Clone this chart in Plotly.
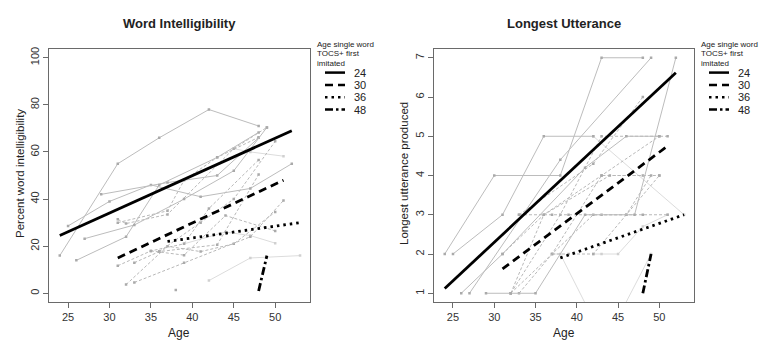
import plotly.graph_objects as go

# ---------------- data: Word Intelligibility (left) ----------------
wi_solid = [
    ([24, 31, 36, 42, 48], [16, 55, 66, 78, 71]),
    ([25, 30, 35, 41, 47, 52], [28.6, 39, 46, 41, 44.5, 55]),
    ([29, 37, 43, 48], [42, 47, 50, 66]),
    ([26, 32, 36, 43, 48], [14, 24, 46, 57.7, 68.3]),
    ([27, 33, 39, 45, 49], [23.2, 29, 40, 52, 70.4]),
]
wi_light = [
    ([42, 47, 53], [5.4, 15, 16]),
    ([39, 44, 47, 50], [21, 26, 24.5, 21.3]),
    ([45, 47, 51], [61.4, 60, 58.2]),
]
wi_dashed = [
    ([31, 32, 37, 45, 49], [31.4, 29.6, 33.5, 61.4, 70.4]),
    ([31, 35, 39, 42, 48], [11.7, 18, 21, 36, 56.6]),
    ([32, 37, 41, 45, 50], [3.7, 20, 17.7, 21, 34.5]),
    ([33, 39, 47, 51], [4.6, 13, 24, 39.4]),
    ([33, 36, 43, 48], [13, 17.7, 20.6, 50.4]),
    ([35, 39, 44, 50], [18, 16.2, 33, 26.5]),
    ([31, 37, 39, 43, 48], [30, 35, 48, 57.7, 66.2]),
    ([36, 41, 45, 50], [17.7, 30, 40, 64.5]),
]
wi_points = ([38], [1.4])

wi_fit = {
    "24": ([24, 52], [24.5, 69]),
    "30": ([31, 51], [15, 48]),
    "36": ([37, 53], [22, 30]),
    "48": ([48, 49], [1, 16]),
}

# ---------------- data: Longest Utterance (right) ----------------
lu_solid = [
    ([24, 30, 38, 43, 48], [2, 4, 4, 7, 7]),
    ([25, 31, 36, 42], [2, 3, 5, 5]),
    ([26, 31, 41, 46, 50], [1, 2, 4.2, 5, 5]),
    ([27, 38, 49], [1, 4.4, 7]),
    ([29, 32, 35, 41, 47, 52], [1, 1, 1, 3, 3, 7]),
]
lu_light = [
    ([42, 53], [5, 3]),
    ([37, 38, 41.6], [2, 2, 0.5]),
    ([45.3, 49], [0.5, 2]),
    ([42, 43, 45, 48, 51], [2, 2, 2, 2.7, 3]),
]
lu_dashed = [
    ([33, 42, 48], [3, 4.3, 6]),
    ([32, 38, 43, 51], [1, 3, 5, 5]),
    ([33, 37, 43, 48], [1, 2, 4, 4]),
    ([32, 36, 44, 50], [1, 3, 4, 4]),
    ([33, 37, 39, 43, 48, 51], [3, 3, 3, 3, 3, 3]),
    ([37, 39, 42, 46, 50], [2, 2, 2, 3, 4]),
    ([31, 36, 43, 50], [2, 3, 4, 5]),
    ([32, 42, 46, 49], [1, 3, 3, 4]),
]

lu_fit = {
    "24": ([24, 52], [1.12, 6.62]),
    "30": ([31, 51], [1.62, 4.75]),
    "36": ([38, 53], [1.9, 3.0]),
    "48": ([48, 49], [1.0, 2.0]),
}

x_ticks = [25, 30, 35, 40, 45, 50]
wi_yticks = [0, 20, 40, 60, 80, 100]
lu_yticks = [1, 2, 3, 4, 5, 6, 7]
groups = ["24", "30", "36", "48"]
legend_title_lines = ["Age single word", "TOCS+ first", "imitated"]

# ---------------- styles ----------------
fit_dash = {"24": "solid", "30": "8px,5px", "36": "2.5px,4px", "48": "8px,3px,2.5px,3px"}
W, H = 768, 350
FONT = "Liberation Sans, Arial, sans-serif"

fig = go.Figure()


def add_ind(lines, xa, ya, color, dash, mcolor):
    for xs, ys in lines:
        fig.add_trace(go.Scatter(
            x=xs, y=ys, xaxis=xa, yaxis=ya, mode="lines+markers",
            line=dict(color=color, width=1, dash=dash),
            marker=dict(size=2.5, color=mcolor, symbol="square"),
            showlegend=False, hoverinfo="skip"))


def add_fit(fits, xa, ya):
    for g in groups:
        xs, ys = fits[g]
        fig.add_trace(go.Scatter(
            x=xs, y=ys, xaxis=xa, yaxis=ya, mode="lines",
            line=dict(color="black", width=2.8, dash=fit_dash[g]),
            showlegend=False, hoverinfo="skip"))


add_ind(wi_light, "x", "y", "#dcdcdc", "solid", "#d0d0d0")
add_ind(wi_dashed, "x", "y", "#b8b8b8", "3px,2px", "#aaaaaa")
add_ind(wi_solid, "x", "y", "#bcbcbc", "solid", "#aaaaaa")
fig.add_trace(go.Scatter(x=wi_points[0], y=wi_points[1], xaxis="x", yaxis="y",
                         mode="markers", marker=dict(size=2.5, color="#aaaaaa", symbol="square"),
                         showlegend=False, hoverinfo="skip"))
add_fit(wi_fit, "x", "y")

add_ind(lu_light, "x2", "y2", "#dcdcdc", "solid", "#d0d0d0")
add_ind(lu_dashed, "x2", "y2", "#b8b8b8", "3px,2px", "#aaaaaa")
add_ind(lu_solid, "x2", "y2", "#bcbcbc", "solid", "#aaaaaa")
add_fit(lu_fit, "x2", "y2")

# axes geometry (pixels)
L1, R1, L2, R2 = 49, 310, 434, 694
TOP, BOT = 47, 302

axis_common = dict(showline=True, linecolor="#6a6a6a", linewidth=1, mirror=True,
                   ticks="outside", ticklen=5, tickcolor="#6a6a6a", showgrid=False,
                   zeroline=False, tickfont=dict(family=FONT, size=11, color="#333"))

fig.update_layout(
    width=W, height=H, margin=dict(l=0, r=0, t=0, b=0),
    paper_bgcolor="white", plot_bgcolor="white",
    xaxis=dict(domain=[L1 / W, R1 / W], range=[22.7, 54.2], tickvals=x_ticks, anchor="y", **axis_common),
    yaxis=dict(domain=[1 - BOT / H, 1 - TOP / H], range=[-3.8, 103.8], tickvals=wi_yticks,
               tickangle=-90, anchor="x", **axis_common),
    xaxis2=dict(domain=[L2 / W, R2 / W], range=[22.7, 54.2], tickvals=x_ticks, anchor="y2", **axis_common),
    yaxis2=dict(domain=[1 - BOT / H, 1 - TOP / H], range=[0.77, 7.23], tickvals=lu_yticks,
                tickangle=-90, anchor="x2", **axis_common),
    showlegend=False,
)

annotations = []
shapes = []


def txt(x, y, text, size, bold=False, angle=0, xanchor="center", color="#222"):
    annotations.append(dict(
        x=x / W, y=1 - y / H, xref="paper", yref="paper", text=("<b>%s</b>" % text) if bold else text,
        showarrow=False, xanchor=xanchor, yanchor="middle", textangle=angle,
        font=dict(family=FONT, size=size, color=color)))


# titles and axis titles
txt(179, 22, "Word Intelligibility", 13, bold=True)
txt(564, 22, "Longest Utterance", 13, bold=True)
txt(179, 333, "Age", 12)
txt(564, 333, "Age", 12)
txt(20, 173, "Percent word intelligibility", 11.5, angle=-90)
txt(404, 173, "Longest utterance produced", 11.5, angle=-90)

# legends
for off in (0, 384):
    for j, line in enumerate(legend_title_lines):
        txt(315 + off, 43 + j * 9.2, line, 8, xanchor="left")
    for i, g in enumerate(groups):
        yy = 71 + i * 12.4
        shapes.append(dict(type="line", xref="paper", yref="paper",
                           x0=(325 + off) / W, x1=(345 + off) / W, y0=1 - yy / H, y1=1 - yy / H,
                           line=dict(color="black", width=2.5, dash=fit_dash[g])))
        txt(352 + off, yy, g, 11, xanchor="left")

fig.update_layout(annotations=annotations, shapes=shapes)
fig.write_html("out.html")
